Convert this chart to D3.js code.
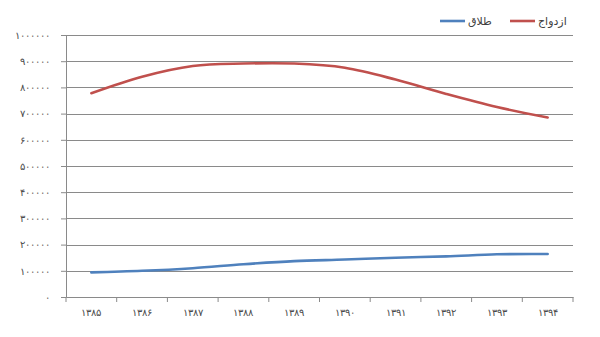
<!DOCTYPE html>
<html>
<head>
<meta charset="utf-8">
<script src="https://cdn.jsdelivr.net/npm/d3@7"></script>
<style>
  body { margin: 0; background: #fff; }
  svg { display: block; font-family: "DejaVu Sans", sans-serif; }
</style>
</head>
<body>
<div id="chart"></div>
<script>
// data
const years = ["۱۳۸۵", "۱۳۸۶", "۱۳۸۷", "۱۳۸۸", "۱۳۸۹", "۱۳۹۰", "۱۳۹۱", "۱۳۹۲", "۱۳۹۳", "۱۳۹۴"];
const marriage = [778000, 841000, 882000, 891000, 891000, 875000, 830000, 775000, 725000, 685000];
const divorce = [94000, 100000, 110000, 125000, 137000, 143000, 150000, 155000, 163000, 164000];
const yTicks = [0, 100000, 200000, 300000, 400000, 500000, 600000, 700000, 800000, 900000, 1000000];
const seriesNames = ["ازدواج", "طلاق"];
const seriesColors = ["#c0504d", "#4f81bd"];

// persian digits for tick labels
const fa = n => String(n).replace(/\d/g, d => "۰۱۲۳۴۵۶۷۸۹"[+d]);

const width = 600, height = 337;
const margin = { top: 35, right: 27, bottom: 40, left: 66 };

const svg = d3.select("#chart").append("svg")
  .attr("width", width)
  .attr("height", height);

const x = d3.scaleBand()
  .domain(years)
  .range([margin.left, width - margin.right]);

const y = d3.scaleLinear()
  .domain([0, 1000000])
  .range([height - margin.bottom, margin.top]);

// gridlines + y ticks
const yAxis = svg.append("g")
  .attr("transform", `translate(${margin.left},0)`)
  .call(d3.axisLeft(y).tickValues(yTicks).tickSize(5).tickPadding(11).tickFormat(fa));
yAxis.select(".domain").attr("stroke", "#8a8a8a");
yAxis.selectAll(".tick line").attr("stroke", "#8a8a8a");
yAxis.selectAll(".tick text")
  .attr("fill", "#4a4a4a")
  .attr("font-size", 10)
  .attr("letter-spacing", "1.8px");

svg.append("g")
  .selectAll("line")
  .data(yTicks.filter(d => d > 0))
  .join("line")
  .attr("x1", margin.left)
  .attr("x2", width - margin.right)
  .attr("y1", d => Math.round(y(d)) + 0.5)
  .attr("y2", d => Math.round(y(d)) + 0.5)
  .attr("stroke", "#8a8a8a");

// x axis
const xAxis = svg.append("g")
  .attr("transform", `translate(0,${y(0)})`)
  .call(d3.axisBottom(x).tickSize(0).tickPadding(12));
xAxis.select(".domain").attr("stroke", "#8a8a8a");
xAxis.selectAll(".tick text")
  .attr("fill", "#4a4a4a")
  .attr("font-size", 10)
  .attr("letter-spacing", "2px");

// tick marks between categories
svg.append("g")
  .selectAll("line")
  .data(years.concat(["end"]))
  .join("line")
  .attr("x1", (d, i) => i < years.length ? x(d) : x.range()[1])
  .attr("x2", (d, i) => i < years.length ? x(d) : x.range()[1])
  .attr("y1", y(0))
  .attr("y2", y(0) + 5)
  .attr("stroke", "#8a8a8a");

// lines
const line = d3.line()
  .x((d, i) => x(years[i]) + x.bandwidth() / 2)
  .y(d => y(d))
  .curve(d3.curveCatmullRom.alpha(0.5));

[marriage, divorce].forEach((vals, k) => {
  svg.append("path")
    .datum(vals)
    .attr("d", line)
    .attr("fill", "none")
    .attr("stroke", seriesColors[k])
    .attr("stroke-width", 2.6)
    .attr("stroke-linecap", "round");
});

// legend
const legend = svg.append("g").attr("font-size", 11);
const legendX = [510, 440];
seriesNames.forEach((name, k) => {
  const g = legend.append("g").attr("transform", `translate(${legendX[k]},21)`);
  g.append("line")
    .attr("x1", 0).attr("x2", 25)
    .attr("stroke", seriesColors[k])
    .attr("stroke-width", 2.6);
  g.append("text")
    .attr("x", 28)
    .attr("dy", "0.35em")
    .attr("fill", "#404040")
    .text(name);
});
</script>
</body>
</html>
